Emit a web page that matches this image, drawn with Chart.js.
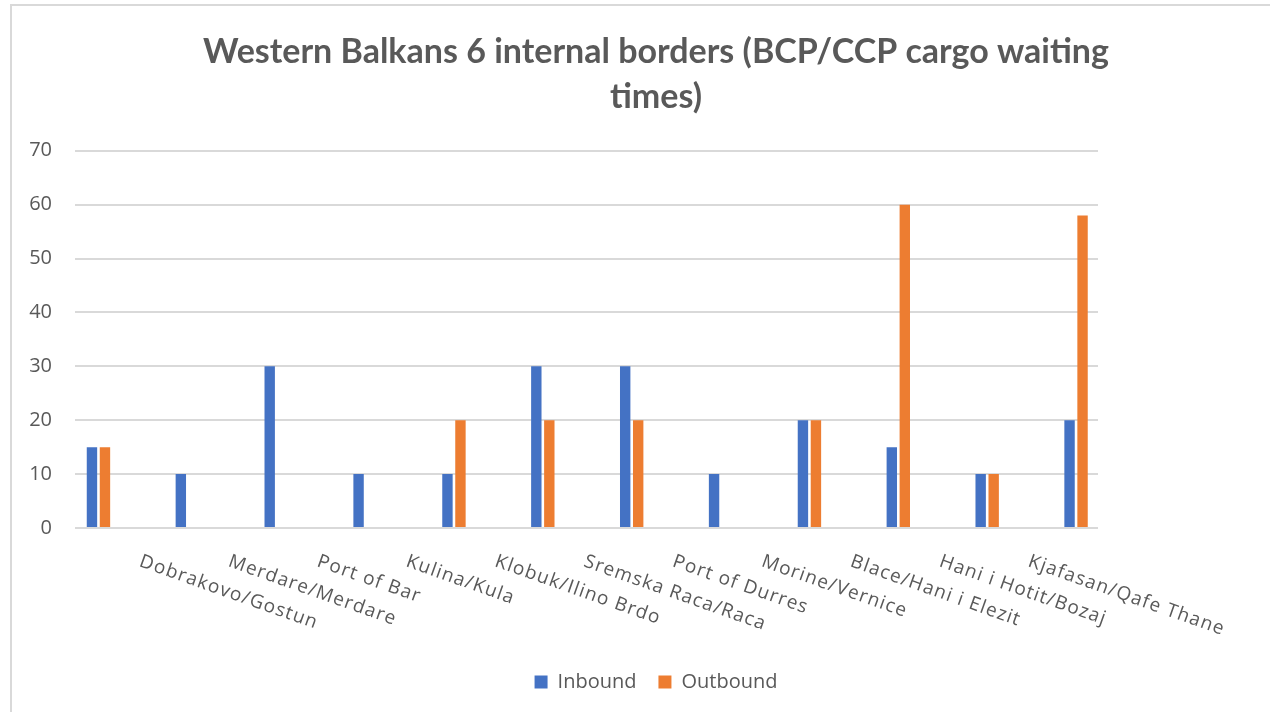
<!DOCTYPE html>
<html lang="en">
<head>
    <meta charset="UTF-8">
    <title>Western Balkans 6 internal borders</title>
    <script src="https://cdn.jsdelivr.net/npm/chart.js"></script>
    <style>
        html, body { margin: 0; padding: 0; background: #fff; overflow: hidden; }
        #box {
            position: absolute; left: 10px; top: 4px;
            width: 1292px; height: 740px;
            border: 2px solid #d9d9d9; box-sizing: border-box;
        }
        canvas { display: block; }
    </style>
</head>
<body>
    <div id="box">
        <canvas id="chart" width="1288" height="736"></canvas>
    </div>

    <script>
        const titleLines = ['Western Balkans 6 internal borders (BCP/CCP cargo waiting', 'times)'];
        const categories = ['', 'Dobrakovo/Gostun', 'Merdare/Merdare', 'Port of Bar', 'Kulina/Kula',
            'Klobuk/Ilino Brdo', 'Sremska Raca/Raca', 'Port of Durres', 'Morine/Vernice',
            'Blace/Hani i Elezit', 'Hani i Hotit/Bozaj', 'Kjafasan/Qafe Thane'];
        const inbound = [15, 10, 30, 10, 10, 30, 30, 10, 20, 15, 10, 20];
        const outbound = [15, 0, 0, 0, 20, 20, 20, 0, 20, 60, 10, 58];
        const yTicks = [0, 10, 20, 30, 40, 50, 60, 70];

        const grey = '#595959';

        // category labels under the axis, rotated down to the right like Excel
        const catLabels = {
            id: 'catLabels',
            afterDraw(chart) {
                const ctx = chart.ctx;
                const xs = chart.scales.x;
                const top = chart.chartArea.bottom + 24;
                ctx.save();
                ctx.fillStyle = grey;
                ctx.font = '19px "Open Sans"';
                ctx.letterSpacing = '1.2px';
                ctx.textAlign = 'left';
                ctx.textBaseline = 'top';
                categories.forEach((c, i) => {
                    if (!c) return;
                    const x = xs.getPixelForValue(i + 1) - 44;
                    ctx.save();
                    ctx.translate(x, top);
                    ctx.rotate(19.5 * Math.PI / 180);
                    ctx.fillText(c, 0, 0);
                    ctx.restore();
                });
                ctx.restore();
            }
        };

        const ctx = document.getElementById('chart').getContext('2d');
        new Chart(ctx, {
            type: 'bar',
            data: {
                datasets: [{
                    label: 'Inbound',
                    data: inbound.map((v, i) => ({ x: i + 1, y: v })),
                    backgroundColor: '#4472C4'
                }, {
                    label: 'Outbound',
                    data: outbound.map((v, i) => ({ x: i + 1, y: v })),
                    backgroundColor: '#ED7D31'
                }]
            },
            options: {
                responsive: false,
                animation: false,
                categoryPercentage: 0.2925,
                barPercentage: 0.8,
                layout: { padding: { left: 0, right: 0, top: 0, bottom: 40 } },
                plugins: {
                    title: {
                        display: true,
                        text: titleLines,
                        color: grey,
                        font: { family: 'Lato', size: 34, weight: 'bold', lineHeight: 1.32 },
                        padding: { top: 24, bottom: 31 }
                    },
                    legend: {
                        position: 'bottom',
                        labels: {
                            color: grey,
                            font: { family: '"Open Sans"', size: 20 },
                            boxWidth: 13,
                            boxHeight: 13,
                            padding: 22
                        }
                    },
                    tooltip: { enabled: false }
                },
                scales: {
                    x: {
                        type: 'linear',
                        offset: false,
                        min: 0.736,
                        max: 12.247,
                        grid: { display: false },
                        border: { display: false },
                        ticks: { display: false },
                        afterFit: s => { s.height = 122; }
                    },
                    y: {
                        min: 0,
                        max: 70,
                        afterBuildTicks: s => { s.ticks = yTicks.map(v => ({ value: v })); },
                        grid: { color: '#d9d9d9', lineWidth: 2, drawTicks: false },
                        border: { display: false },
                        ticks: {
                            color: grey,
                            font: { family: '"Open Sans"', size: 20 },
                            padding: 23
                        },
                        afterFit: s => { s.width = 63; }
                    },
                    pad: {
                        position: 'right',
                        display: true,
                        grid: { display: false },
                        border: { display: false },
                        ticks: { display: false },
                        afterFit: s => { s.width = 202; }
                    }
                }
            },
            plugins: [catLabels]
        });
    </script>
</body>
</html>
